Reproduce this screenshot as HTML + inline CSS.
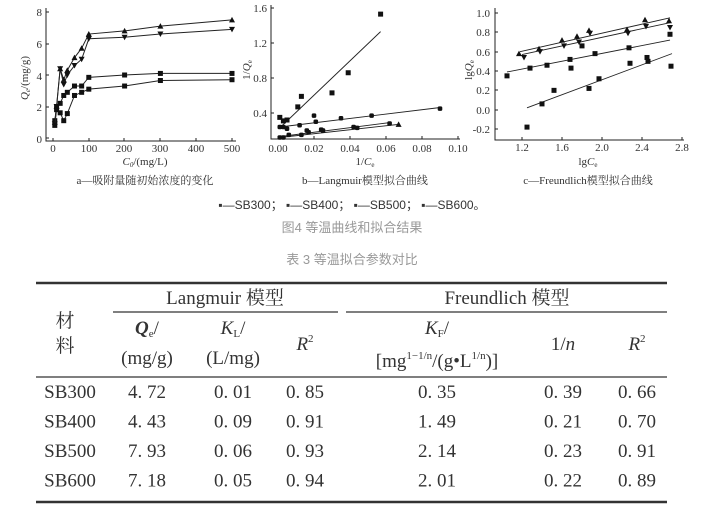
<!DOCTYPE html>
<html><head><meta charset="utf-8"><style>
html,body{margin:0;padding:0;background:#fff;width:703px;height:522px;overflow:hidden}
svg{display:block}
.ax{font-family:"Liberation Serif",serif;font-size:11px;fill:#333}
.cap{font-family:"Liberation Serif","Noto Serif CJK SC",serif;font-size:11px;fill:#333}
.tb{font-family:"Liberation Serif","Noto Serif CJK SC",serif;font-size:19px;fill:#333}
.gr{font-family:"Liberation Sans","Noto Sans CJK SC",sans-serif;font-size:13px;fill:#999}
</style></head><body>
<svg id="s" width="703" height="522" xmlns="http://www.w3.org/2000/svg">
<g id="charts" stroke="#222" fill="none"></g>
<!-- chart a labels -->
<g class="ax">
<text x="42" y="16" text-anchor="end">8</text><text x="42" y="48" text-anchor="end">6</text>
<text x="42" y="80" text-anchor="end">4</text><text x="42" y="111" text-anchor="end">2</text>
<text x="42" y="143" text-anchor="end">0</text>
<text x="53" y="152" text-anchor="middle">0</text><text x="89" y="152" text-anchor="middle">100</text>
<text x="124" y="152" text-anchor="middle">200</text><text x="160" y="152" text-anchor="middle">300</text>
<text x="196" y="152" text-anchor="middle">400</text><text x="232" y="152" text-anchor="middle">500</text>
<text x="145" y="165" text-anchor="middle" font-style="italic">C<tspan font-size="7" dy="2">0</tspan><tspan dy="-2" font-style="normal">/(mg/L)</tspan></text>
<text transform="translate(28,78) rotate(-90)" text-anchor="middle" font-style="italic">Q<tspan font-size="7" dy="2">e</tspan><tspan dy="-2" font-style="normal">/(mg/g)</tspan></text>
</g>
<text class="cap" x="145" y="184" text-anchor="middle">a—吸附量随初始浓度的变化</text>
<!-- chart b labels -->
<g class="ax">
<text x="267" y="12" text-anchor="end">1.6</text><text x="267" y="47" text-anchor="end">1.2</text>
<text x="267" y="82" text-anchor="end">0.8</text><text x="267" y="117" text-anchor="end">0.4</text>
<text x="278" y="152" text-anchor="middle">0.00</text><text x="314" y="152" text-anchor="middle">0.02</text>
<text x="350" y="152" text-anchor="middle">0.04</text><text x="386" y="152" text-anchor="middle">0.06</text>
<text x="422" y="152" text-anchor="middle">0.08</text><text x="458" y="152" text-anchor="middle">0.10</text>
<text x="365" y="165" text-anchor="middle">1/<tspan font-style="italic">C</tspan><tspan font-size="7" dy="2">e</tspan></text>
<text transform="translate(250,70) rotate(-90)" text-anchor="middle">1/<tspan font-style="italic">Q</tspan><tspan font-size="7" dy="2">e</tspan></text>
</g>
<text class="cap" x="365" y="184" text-anchor="middle">b—Langmuir模型拟合曲线</text>
<!-- chart c labels -->
<g class="ax">
<text x="490" y="17" text-anchor="end">1.0</text><text x="490" y="36" text-anchor="end">0.8</text>
<text x="490" y="56" text-anchor="end">0.6</text><text x="490" y="75" text-anchor="end">0.4</text>
<text x="490" y="94" text-anchor="end">0.2</text><text x="490" y="114" text-anchor="end">0.0</text>
<text x="490" y="133" text-anchor="end">-0.2</text>
<text x="522" y="151" text-anchor="middle">1.2</text><text x="562" y="151" text-anchor="middle">1.6</text>
<text x="602" y="151" text-anchor="middle">2.0</text><text x="642" y="151" text-anchor="middle">2.4</text>
<text x="682" y="151" text-anchor="middle">2.8</text>
<text x="588" y="165" text-anchor="middle">lg<tspan font-style="italic">C</tspan><tspan font-size="7" dy="2">e</tspan></text>
<text transform="translate(472,70) rotate(-90)" text-anchor="middle">lg<tspan font-style="italic">Q</tspan><tspan font-size="7" dy="2">e</tspan></text>
</g>
<text class="cap" x="588" y="184" text-anchor="middle">c—Freundlich模型拟合曲线</text>
<!-- legend -->
<text x="352" y="209" text-anchor="middle" style="font-family:'Liberation Sans','Noto Sans CJK SC',sans-serif;font-size:12px;fill:#333">▪—SB300；  ▪—SB400；  ▪—SB500；  ▪—SB600。</text>
<text class="gr" x="352" y="232" text-anchor="middle">图4 等温曲线和拟合结果</text>
<text class="gr" x="352" y="264" text-anchor="middle">表 3 等温拟合参数对比</text>
<!-- table -->
<g stroke="#333">
<line x1="36" y1="283" x2="667" y2="283" stroke-width="2.5"/>
<line x1="113" y1="312" x2="338" y2="312" stroke-width="1.2"/>
<line x1="346" y1="312" x2="667" y2="312" stroke-width="1.2"/>
<line x1="36" y1="377" x2="667" y2="377" stroke-width="1.2"/>
<line x1="36" y1="502" x2="667" y2="502" stroke-width="2.5"/>
</g>
<g class="tb" text-anchor="middle">
<text x="65" y="327">材</text><text x="65" y="352">料</text>
<text x="225" y="304">Langmuir 模型</text><text x="507" y="304">Freundlich 模型</text>
<text x="147" y="334" font-style="italic" font-weight="bold">Q<tspan font-size="11" dy="3" font-style="normal" font-weight="normal">e</tspan><tspan dy="-3" font-style="normal" font-weight="normal">/</tspan></text>
<text x="233" y="334" font-style="italic">K<tspan font-size="11" dy="3" font-style="normal">L</tspan><tspan dy="-3" font-style="normal">/</tspan></text>
<text x="147" y="364">(mg/g)</text><text x="233" y="364">(L/mg)</text>
<text x="305" y="350" font-style="italic">R<tspan font-size="11" dy="-8" font-style="normal">2</tspan></text>
<text x="437" y="334" font-style="italic">K<tspan font-size="11" dy="3" font-style="normal">F</tspan><tspan dy="-3" font-style="normal">/</tspan></text>
<text x="437" y="367">[mg<tspan font-size="11" dy="-8">1−1/n</tspan><tspan dy="8">/(g•L</tspan><tspan font-size="11" dy="-8">1/n</tspan><tspan dy="8">)]</tspan></text>
<text x="563" y="350">1/<tspan font-style="italic">n</tspan></text>
<text x="637" y="350" font-style="italic">R<tspan font-size="11" dy="-8" font-style="normal">2</tspan></text>
</g>
<g class="tb" id="rows" text-anchor="middle"></g>
<script>
var ns="http://www.w3.org/2000/svg",g=document.getElementById("charts");
function el(t,a,p){var e=document.createElementNS(ns,t);for(var k in a)e.setAttribute(k,a[k]);(p||g).appendChild(e);return e}
function mark(x,y,t){
 if(t=="s")el("rect",{x:x-2.5,y:y-2.5,width:5,height:5,fill:"#111",stroke:"none"});
 else if(t=="c")el("rect",{x:x-2.3,y:y-2.3,width:4.6,height:4.6,rx:1.5,fill:"#111",stroke:"none"});
 else if(t=="u")el("polygon",{points:(x)+","+(y-3)+" "+(x-3)+","+(y+2.5)+" "+(x+3)+","+(y+2.5),fill:"#111",stroke:"none"});
 else el("polygon",{points:(x)+","+(y+3)+" "+(x-3)+","+(y-2.5)+" "+(x+3)+","+(y-2.5),fill:"#111",stroke:"none"});
}
function axes(x0,x1,y0,y1,xt,yt){
 el("polyline",{points:x0+","+y0+" "+x0+","+y1+" "+x1+","+y1,"stroke-width":1});
 xt.forEach(function(v){el("line",{x1:v,y1:y1,x2:v,y2:y1-3})});
 yt.forEach(function(v){el("line",{x1:x0,y1:v,x2:x0+3,y2:v})});
}
// chart a
var ax=function(v){return 53+v*0.358},ay=function(v){return 138-v*15.75};
axes(46,236,8,141,[53,89,124,160,196,232],[12,44,75,107,138]);
var xs=[5,10,20,30,40,60,80,100,200,300,500];
var A=[["u",[1.0,2.0,4.4,3.7,4.3,5.1,5.7,6.6,6.8,7.1,7.5]],["d",[0.9,2.0,4.4,3.4,4.0,4.6,5.0,6.3,6.4,6.6,6.9]],
["s",[1.1,2.0,2.2,2.7,2.9,3.3,3.3,3.85,4.0,4.1,4.1]],["s",[0.8,1.8,1.6,1.1,1.55,2.7,2.9,3.1,3.3,3.65,3.7]]];
A.forEach(function(s){el("polyline",{points:xs.map(function(x,i){return ax(x)+","+ay(s[1][i])}).join(" "),"stroke-width":1});
 xs.forEach(function(x,i){mark(ax(x),ay(s[1][i]),s[0])})});
// chart b
var bx=function(v){return 278+v*1800},by=function(v){return 113-(v-0.4)*87.5};
axes(271,460,5,139,[278,314,350,386,422,458],[8,43,78,113]);
[[0.002,0.25,0.057,1.33],[0.001,0.24,0.089,0.46],[0.001,0.13,0.062,0.29],[0.001,0.12,0.067,0.27]].forEach(function(l){
 el("line",{x1:bx(l[0]),y1:by(l[1]),x2:bx(l[2]),y2:by(l[3]),"stroke-width":0.9})});
[[0.001,0.35],[0.003,0.31],[0.005,0.32],[0.011,0.47],[0.013,0.59],[0.030,0.63],[0.039,0.86],[0.057,1.53]].forEach(function(p){mark(bx(p[0]),by(p[1]),"s")});
[[0.001,0.24],[0.003,0.24],[0.005,0.22],[0.012,0.26],[0.020,0.37],[0.021,0.30],[0.035,0.34],[0.052,0.37],[0.090,0.45]].forEach(function(p){mark(bx(p[0]),by(p[1]),"c")});
[[0.001,0.12],[0.003,0.12],[0.006,0.15],[0.013,0.15],[0.016,0.20],[0.017,0.18],[0.024,0.21],[0.025,0.2],[0.042,0.24],[0.044,0.23],[0.062,0.28]].forEach(function(p){mark(bx(p[0]),by(p[1]),"c")});
mark(bx(0.067),by(0.27),"u");
// chart c
var cx=function(v){return 522+(v-1.2)*100},cy=function(v){return 13+(1-v)*96.7};
axes(495,684,8,140,[522,562,602,642,682],[13,32,52,71,90,110,129]);
[[1.18,0.6,2.68,0.95],[1.2,0.57,2.68,0.9],[1.05,0.39,2.68,0.72],[1.25,0.02,2.7,0.58]].forEach(function(l){
 el("line",{x1:cx(l[0]),y1:cy(l[1]),x2:cx(l[2]),y2:cy(l[3]),"stroke-width":0.9})});
var C=[["u",[[1.17,0.58],[1.37,0.63],[1.60,0.72],[1.75,0.76],[1.87,0.82],[2.25,0.83],[2.43,0.93],[2.67,0.92]]],
["d",[[1.22,0.54],[1.38,0.6],[1.62,0.66],[1.77,0.70],[1.88,0.79],[2.26,0.79],[2.44,0.86],[2.68,0.85]]],
["s",[[1.05,0.35],[1.28,0.43],[1.45,0.46],[1.68,0.52],[1.80,0.66],[1.93,0.58],[2.27,0.64],[2.68,0.78]]],
["s",[[1.25,-0.18],[1.40,0.06],[1.52,0.2],[1.69,0.43],[1.87,0.22],[1.97,0.32],[2.28,0.48],[2.45,0.54],[2.46,0.5],[2.69,0.45]]]];
C.forEach(function(s){s[1].forEach(function(p){mark(cx(p[0]),cy(p[1]),s[0])})});
// table rows
var R=[["SB300","4.72","0.01","0.85","0.35","0.39","0.66"],["SB400","4.43","0.09","0.91","1.49","0.21","0.70"],
["SB500","7.93","0.06","0.93","2.14","0.23","0.91"],["SB600","7.18","0.05","0.94","2.01","0.22","0.89"]];
var cols=[70,147,233,305,437,563,637],rg=document.getElementById("rows");
R.forEach(function(r,i){r.forEach(function(t,j){var e=el("text",{x:cols[j],y:398+i*29.5},rg);e.textContent=j?t.replace(".",". "):t;})});
</script>
</svg>
</body></html>
